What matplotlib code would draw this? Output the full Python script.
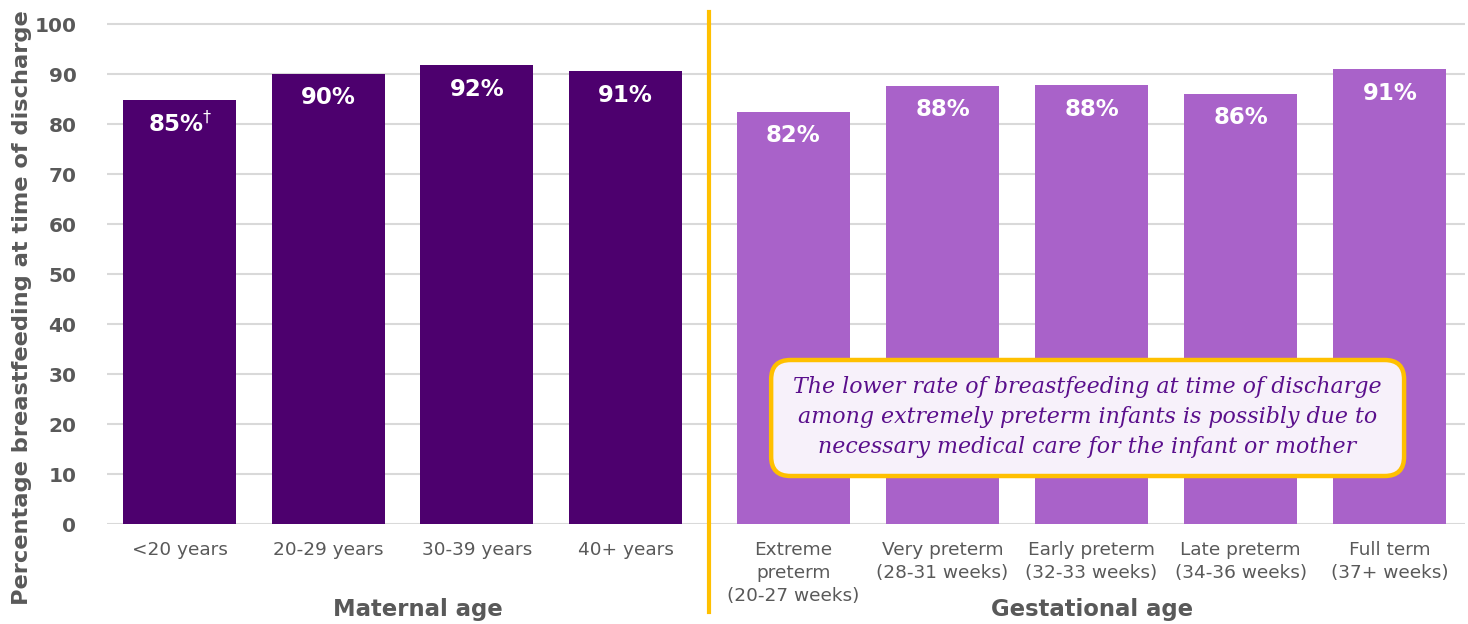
import numpy as np
import matplotlib
matplotlib.use('Agg')
import matplotlib.pyplot as plt
from matplotlib.patches import FancyBboxPatch

plt.rcParams['font.family'] = ['DejaVu Sans']

# Данные: возраст матери
maternal_cats = ['<20 years', '20-29 years', '30-39 years', '40+ years']
maternal_vals = [84.8, 90.0, 91.8, 90.6]
maternal_labels = ['85%$^{\\dag}$', '90%', '92%', '91%']

# Данные: гестационный возраст
gest_cats = ['Extreme\npreterm\n(20-27 weeks)', 'Very preterm\n(28-31 weeks)',
             'Early preterm\n(32-33 weeks)', 'Late preterm\n(34-36 weeks)',
             'Full term\n(37+ weeks)']
gest_vals = [82.4, 87.6, 87.8, 86.0, 91.0]
gest_labels = ['82%', '88%', '88%', '86%', '91%']

note = ('The lower rate of breastfeeding at time of discharge\n'
        'among extremely preterm infants is possibly due to\n'
        'necessary medical care for the infant or mother')

dark = '#4D006E'
light = '#A962C9'
gold = '#FFC000'
grey = '#595959'

fig = plt.figure(figsize=(14.68, 6.24), dpi=100)
ax = fig.add_axes([107 / 1468, 100 / 624, 1358 / 1468, 505 / 624])

x1 = np.arange(len(maternal_vals))
x2 = np.arange(len(gest_vals)) * 1.0035 + 4.13
w = 0.76

ax.bar(x1, maternal_vals, width=w, color=dark, zorder=2)
ax.bar(x2, gest_vals, width=w, color=light, zorder=2)

for x, v, t in zip(np.concatenate([x1, x2]), maternal_vals + gest_vals,
                   maternal_labels + gest_labels):
    ax.text(x, v - 4.8, t, ha='center', va='center', color='white',
            fontsize=16.5, fontweight='bold', zorder=3)

ax.set_xlim(-0.49, 8.65)
ax.set_ylim(0, 101)
ax.set_yticks(np.arange(0, 101, 10))
ax.set_xticks(np.concatenate([x1, x2]))
ax.set_xticklabels(maternal_cats + gest_cats, fontsize=13.3, color=grey,
                   va='top', linespacing=1.38)
ax.tick_params(axis='x', length=0, pad=12)
ax.tick_params(axis='y', length=0, pad=22, labelsize=14.5, labelcolor=grey)
for lab in ax.get_yticklabels():
    lab.set_fontweight('bold')
ax.grid(axis='y', color='#D9D9D9', linewidth=1.5, zorder=0)
for s in ax.spines.values():
    s.set_visible(False)

# Разделитель групп
sep = (x1[-1] + x2[0]) / 2
ax.axvline(sep, ymin=-0.174, ymax=1.014, color=gold, linewidth=3,
           clip_on=False, zorder=4)

# Подписи групп
ax.text(1.6, -0.17, 'Maternal age', transform=ax.get_xaxis_transform(),
        ha='center', va='center', fontsize=16.4, fontweight='bold', color=grey)
ax.text(x2.mean(), -0.17, 'Gestational age', transform=ax.get_xaxis_transform(),
        ha='center', va='center', fontsize=16.4, fontweight='bold', color=grey)

fig.text(22 / 1468, 19 / 624, 'Percentage breastfeeding at time of discharge',
         rotation=90, ha='center', va='bottom', fontsize=16.2,
         fontweight='bold', color=grey)

# Пояснение в рамке
bx0, bx1, by0, by1 = 3.98, 8.24, 9.6, 32.8
box = FancyBboxPatch((bx0, by0), bx1 - bx0, by1 - by0,
                     boxstyle='round,pad=0,rounding_size=0.13',
                     mutation_aspect=29.7, facecolor='#F7F1FA',
                     edgecolor=gold, linewidth=3.2, zorder=5)
ax.add_patch(box)
ax.text((bx0 + bx1) / 2, (by0 + by1) / 2 + 0.2, note, ha='center', va='center',
        fontsize=15.9, style='italic', family='DejaVu Serif', color='#5A0F8C',
        linespacing=1.5, zorder=6)

fig.savefig('out.png', dpi=100)
